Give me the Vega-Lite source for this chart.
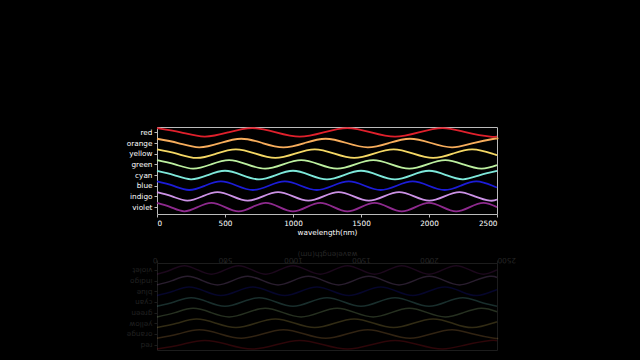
{
  "$schema": "https://vega.github.io/schema/vega-lite/v6.json",
  "background": "black",
  "padding": {"left": 125, "top": 123, "right": 123, "bottom": 10},
  "spacing": 12,
  "datasets": {
    "w": [
      {"c":"red","x":0,"y":7.4},{"c":"red","x":175,"y":7},{"c":"red","x":350,"y":6.6},{"c":"red","x":525,"y":7},{"c":"red","x":700,"y":7.4},{"c":"red","x":875,"y":7},{"c":"red","x":1050,"y":6.6},{"c":"red","x":1225,"y":7},{"c":"red","x":1400,"y":7.4},{"c":"red","x":1575,"y":7},{"c":"red","x":1750,"y":6.6},{"c":"red","x":1925,"y":7},{"c":"red","x":2100,"y":7.4},{"c":"red","x":2275,"y":7},{"c":"red","x":2450,"y":6.6},{"c":"red","x":2500,"y":6.64},
      {"c":"orange","x":0,"y":6.4},{"c":"orange","x":155,"y":6},{"c":"orange","x":310,"y":5.6},{"c":"orange","x":465,"y":6},{"c":"orange","x":620,"y":6.4},{"c":"orange","x":775,"y":6},{"c":"orange","x":930,"y":5.6},{"c":"orange","x":1085,"y":6},{"c":"orange","x":1240,"y":6.4},{"c":"orange","x":1395,"y":6},{"c":"orange","x":1550,"y":5.6},{"c":"orange","x":1705,"y":6},{"c":"orange","x":1860,"y":6.4},{"c":"orange","x":2015,"y":6},{"c":"orange","x":2170,"y":5.6},{"c":"orange","x":2325,"y":6},{"c":"orange","x":2480,"y":6.4},{"c":"orange","x":2500,"y":6.39},
      {"c":"yellow","x":0,"y":5.4},{"c":"yellow","x":145,"y":5},{"c":"yellow","x":290,"y":4.6},{"c":"yellow","x":435,"y":5},{"c":"yellow","x":580,"y":5.4},{"c":"yellow","x":725,"y":5},{"c":"yellow","x":870,"y":4.6},{"c":"yellow","x":1015,"y":5},{"c":"yellow","x":1160,"y":5.4},{"c":"yellow","x":1305,"y":5},{"c":"yellow","x":1450,"y":4.6},{"c":"yellow","x":1595,"y":5},{"c":"yellow","x":1740,"y":5.4},{"c":"yellow","x":1885,"y":5},{"c":"yellow","x":2030,"y":4.6},{"c":"yellow","x":2175,"y":5},{"c":"yellow","x":2320,"y":5.4},{"c":"yellow","x":2465,"y":5},{"c":"yellow","x":2500,"y":4.85},
      {"c":"green","x":0,"y":4.4},{"c":"green","x":132.5,"y":4},{"c":"green","x":265,"y":3.6},{"c":"green","x":397.5,"y":4},{"c":"green","x":530,"y":4.4},{"c":"green","x":662.5,"y":4},{"c":"green","x":795,"y":3.6},{"c":"green","x":927.5,"y":4},{"c":"green","x":1060,"y":4.4},{"c":"green","x":1192.5,"y":4},{"c":"green","x":1325,"y":3.6},{"c":"green","x":1457.5,"y":4},{"c":"green","x":1590,"y":4.4},{"c":"green","x":1722.5,"y":4},{"c":"green","x":1855,"y":3.6},{"c":"green","x":1987.5,"y":4},{"c":"green","x":2120,"y":4.4},{"c":"green","x":2252.5,"y":4},{"c":"green","x":2385,"y":3.6},{"c":"green","x":2500,"y":3.92},
      {"c":"cyan","x":0,"y":3.4},{"c":"cyan","x":125,"y":3},{"c":"cyan","x":250,"y":2.6},{"c":"cyan","x":375,"y":3},{"c":"cyan","x":500,"y":3.4},{"c":"cyan","x":625,"y":3},{"c":"cyan","x":750,"y":2.6},{"c":"cyan","x":875,"y":3},{"c":"cyan","x":1000,"y":3.4},{"c":"cyan","x":1125,"y":3},{"c":"cyan","x":1250,"y":2.6},{"c":"cyan","x":1375,"y":3},{"c":"cyan","x":1500,"y":3.4},{"c":"cyan","x":1625,"y":3},{"c":"cyan","x":1750,"y":2.6},{"c":"cyan","x":1875,"y":3},{"c":"cyan","x":2000,"y":3.4},{"c":"cyan","x":2125,"y":3},{"c":"cyan","x":2250,"y":2.6},{"c":"cyan","x":2375,"y":3},{"c":"cyan","x":2500,"y":3.4},
      {"c":"blue","x":0,"y":2.4},{"c":"blue","x":117.5,"y":2},{"c":"blue","x":235,"y":1.6},{"c":"blue","x":352.5,"y":2},{"c":"blue","x":470,"y":2.4},{"c":"blue","x":587.5,"y":2},{"c":"blue","x":705,"y":1.6},{"c":"blue","x":822.5,"y":2},{"c":"blue","x":940,"y":2.4},{"c":"blue","x":1057.5,"y":2},{"c":"blue","x":1175,"y":1.6},{"c":"blue","x":1292.5,"y":2},{"c":"blue","x":1410,"y":2.4},{"c":"blue","x":1527.5,"y":2},{"c":"blue","x":1645,"y":1.6},{"c":"blue","x":1762.5,"y":2},{"c":"blue","x":1880,"y":2.4},{"c":"blue","x":1997.5,"y":2},{"c":"blue","x":2115,"y":1.6},{"c":"blue","x":2232.5,"y":2},{"c":"blue","x":2350,"y":2.4},{"c":"blue","x":2467.5,"y":2},{"c":"blue","x":2500,"y":1.83},
      {"c":"indigo","x":0,"y":1.4},{"c":"indigo","x":111.25,"y":1},{"c":"indigo","x":222.5,"y":0.6},{"c":"indigo","x":333.75,"y":1},{"c":"indigo","x":445,"y":1.4},{"c":"indigo","x":556.25,"y":1},{"c":"indigo","x":667.5,"y":0.6},{"c":"indigo","x":778.75,"y":1},{"c":"indigo","x":890,"y":1.4},{"c":"indigo","x":1001.25,"y":1},{"c":"indigo","x":1112.5,"y":0.6},{"c":"indigo","x":1223.75,"y":1},{"c":"indigo","x":1335,"y":1.4},{"c":"indigo","x":1446.25,"y":1},{"c":"indigo","x":1557.5,"y":0.6},{"c":"indigo","x":1668.75,"y":1},{"c":"indigo","x":1780,"y":1.4},{"c":"indigo","x":1891.25,"y":1},{"c":"indigo","x":2002.5,"y":0.6},{"c":"indigo","x":2113.75,"y":1},{"c":"indigo","x":2225,"y":1.4},{"c":"indigo","x":2336.25,"y":1},{"c":"indigo","x":2447.5,"y":0.6},{"c":"indigo","x":2500,"y":0.705},
      {"c":"violet","x":0,"y":0.4},{"c":"violet","x":100,"y":0},{"c":"violet","x":200,"y":-0.4},{"c":"violet","x":300,"y":0},{"c":"violet","x":400,"y":0.4},{"c":"violet","x":500,"y":0},{"c":"violet","x":600,"y":-0.4},{"c":"violet","x":700,"y":0},{"c":"violet","x":800,"y":0.4},{"c":"violet","x":900,"y":0},{"c":"violet","x":1000,"y":-0.4},{"c":"violet","x":1100,"y":0},{"c":"violet","x":1200,"y":0.4},{"c":"violet","x":1300,"y":0},{"c":"violet","x":1400,"y":-0.4},{"c":"violet","x":1500,"y":0},{"c":"violet","x":1600,"y":0.4},{"c":"violet","x":1700,"y":0},{"c":"violet","x":1800,"y":-0.4},{"c":"violet","x":1900,"y":0},{"c":"violet","x":2000,"y":0.4},{"c":"violet","x":2100,"y":0},{"c":"violet","x":2200,"y":-0.4},{"c":"violet","x":2300,"y":0},{"c":"violet","x":2400,"y":0.4},{"c":"violet","x":2500,"y":0}
    ]
  },
  "vconcat": [
    {
      "data": {"name": "w"},
      "width": 340,
      "height": 87,
      "view": {"stroke": "#bbbbbb", "strokeWidth": 1},
      "mark": {"type": "line", "interpolate": "natural", "strokeWidth": 1.8},
      "encoding": {
        "x": {"field": "x", "type": "quantitative", "scale": {"domain": [0, 2500], "nice": false},
          "axis": {"values": [0, 500, 1000, 1500, 2000, 2500], "format": "d", "title": "wavelength(nm)", "labelColor": "white", "titleColor": "white", "tickColor": "#bbbbbb", "tickSize": 3, "labelPadding": 2, "titlePadding": 2}},
        "y": {"field": "y", "type": "quantitative", "scale": {"domain": [-0.65, 7.5], "nice": false, "zero": false},
          "axis": {"values": [0, 1, 2, 3, 4, 5, 6, 7], "title": null, "labelExpr": "['violet','indigo','blue','cyan','green','yellow','orange','red'][datum.value]", "labelColor": "white", "tickColor": "#bbbbbb", "tickSize": 3, "labelPadding": 2}},
        "color": {"field": "c", "type": "nominal", "legend": null,
          "scale": {"domain": ["red","orange","yellow","green","cyan","blue","indigo","violet"],
                    "range": ["#e0202c","#f7ad5c","#f5d865","#bdf0a0","#7ee8da","#1c1cd8","#cc92e6","#8e2a8e"]}}
      }
    },
    {
      "data": {"name": "w"},
      "width": 340,
      "height": 87,
      "view": {"stroke": "#1c1c1c", "strokeWidth": 1},
      "mark": {"type": "line", "interpolate": "natural", "strokeWidth": 1.5},
      "encoding": {
        "x": {"field": "x", "type": "quantitative", "scale": {"domain": [0, 2500], "nice": false},
          "axis": {"orient": "top", "values": [0, 500, 1000, 1500, 2000, 2500], "format": "d", "title": "wavelength(nm)", "labelAngle": 180, "titleAngle": 180, "labelColor": "#262626", "titleColor": "#262626", "tickColor": "#1c1c1c", "tickSize": 3, "labelPadding": -3, "titlePadding": 6}},
        "y": {"field": "y", "type": "quantitative", "scale": {"domain": [-0.65, 7.5], "nice": false, "zero": false, "reverse": true},
          "axis": {"values": [0, 1, 2, 3, 4, 5, 6, 7], "title": null, "labelExpr": "['violet','indigo','blue','cyan','green','yellow','orange','red'][datum.value]", "labelAngle": 180, "labelColor": "#202020", "tickColor": "#1c1c1c", "tickSize": 3, "labelPadding": 2}},
        "color": {"field": "c", "type": "nominal", "legend": null,
          "scale": {"domain": ["red","orange","yellow","green","cyan","blue","indigo","violet"],
                    "range": ["#e0202c","#f7ad5c","#f5d865","#bdf0a0","#7ee8da","#1c1cd8","#cc92e6","#8e2a8e"]}},
        "opacity": {"field": "c", "type": "nominal", "legend": null,
          "scale": {"domain": ["violet","indigo","blue","cyan","green","yellow","orange","red"],
                    "range": [0.2, 0.2, 0.16, 0.16, 0.14, 0.12, 0.09, 0.06]}}
      }
    }
  ],
  "config": {
    "axis": {"grid": false, "domain": false, "labelFont": "DejaVu Sans", "labelFontSize": 7.3, "titleFont": "DejaVu Sans", "titleFontSize": 7.3, "titleFontWeight": "normal"}
  }
}
